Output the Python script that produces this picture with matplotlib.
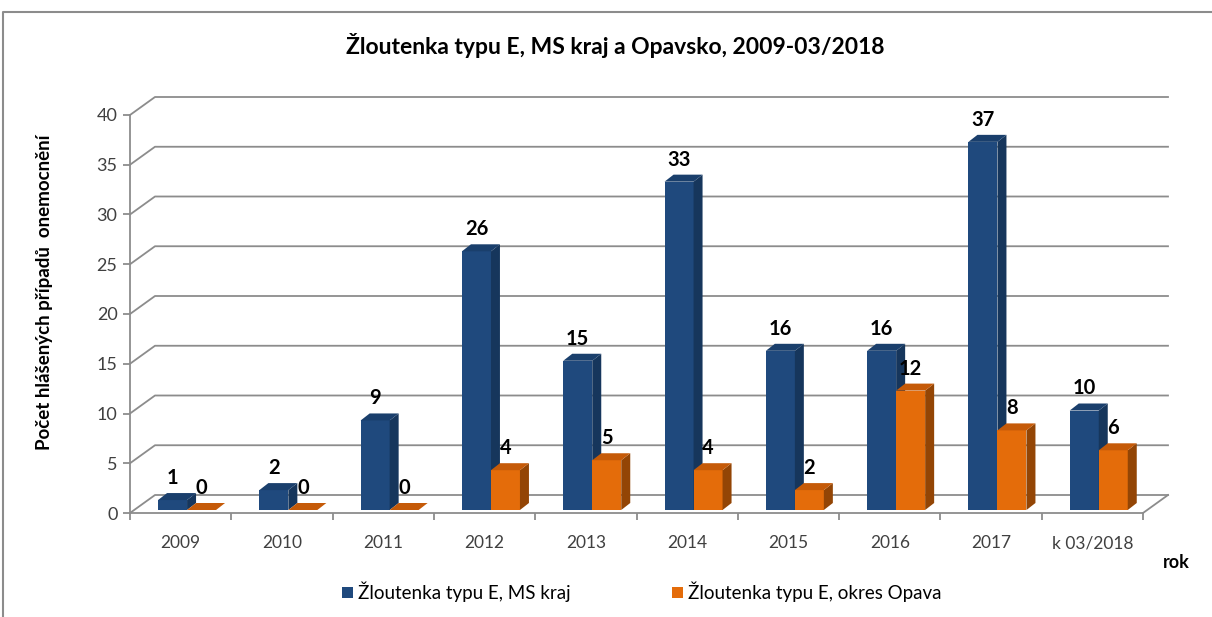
import numpy as np
import matplotlib
matplotlib.use("Agg")
import matplotlib.pyplot as plt
from matplotlib.patches import Polygon, Patch
from matplotlib.lines import Line2D

plt.rcParams["font.family"] = ["Lato", "DejaVu Sans"]

years = ["2009", "2010", "2011", "2012", "2013", "2014", "2015", "2016", "2017", "k 03/2018"]
ms_kraj = [1, 2, 9, 26, 15, 33, 16, 16, 37, 10]
opava = [0, 0, 0, 4, 5, 4, 2, 12, 8, 6]
series_names = ["Žloutenka typu E, MS kraj", "Žloutenka typu E, okres Opava"]

W, H = 1212, 617
fig = plt.figure(figsize=(W / 100, H / 100), dpi=100)
fig.patch.set_facecolor("white")

# front plane of the pseudo-3D chart
ax = fig.add_axes([130 / W, (H - 513) / H, 1013 / W, 398 / H])
n = len(years)
ax.set_xlim(-0.5, n - 0.5)
ax.set_ylim(0, 40)
ax.patch.set_alpha(0)

px_x = 1013 / n        # pixels per category
px_y = 398 / 40        # pixels per unit value
grey = "#8c8c8c"

# back wall / floor offset
wdx, wdy = 25 / px_x, 18 / px_y
for v in range(0, 41, 5):
    ax.add_line(Line2D([-0.5, -0.5 + wdx, n - 0.5 + wdx], [v, v + wdy, v + wdy],
                       color=grey, lw=1.3, clip_on=False, zorder=1))
ax.add_line(Line2D([n - 0.5, n - 0.5 + wdx], [0, wdy], color=grey, lw=1.3,
                   clip_on=False, zorder=1))

for s in ["top", "right"]:
    ax.spines[s].set_visible(False)
for s in ["left", "bottom"]:
    ax.spines[s].set_color(grey)
    ax.spines[s].set_linewidth(1.3)

ax.set_yticks(range(0, 41, 5))
ax.tick_params(axis="y", length=5, width=1.3, color=grey, labelsize=13,
               labelcolor="#404040", pad=4)
ax.set_xticks(np.arange(n))
ax.set_xticklabels(years)
ax.set_xticks(np.arange(n + 1) - 0.5, minor=True)
ax.tick_params(axis="x", which="major", length=0, labelsize=12.5,
               labelcolor="#404040", pad=16)
ax.tick_params(axis="x", which="minor", length=5, width=1.3, color=grey)

# bars (front face + top + side)
base = 3 / px_y
bw = 29 / px_x
bdx, bdy = 9 / px_x, 7 / px_y
blue = ("#1F497D", "#1A3F6C", "#16365C")
orange = ("#E46C0A", "#C55A08", "#934505")


def bar3d(x0, v, cols):
    front, top, side = cols
    y1 = base + v
    if v > 0:
        ax.add_patch(Polygon([(x0, base), (x0 + bw, base), (x0 + bw, y1), (x0, y1)],
                             closed=True, fc=front, ec="none", zorder=3))
        ax.add_patch(Polygon([(x0 + bw, base), (x0 + bw + bdx, base + bdy),
                              (x0 + bw + bdx, y1 + bdy), (x0 + bw, y1)],
                             closed=True, fc=side, ec="none", zorder=3))
    ax.add_patch(Polygon([(x0, y1), (x0 + bw, y1), (x0 + bw + bdx, y1 + bdy),
                          (x0 + bdx, y1 + bdy)],
                         closed=True, fc=top, ec="none", zorder=3))
    ax.annotate(str(v), (x0 + bw / 2, y1), xytext=(0, 22), textcoords="offset pixels",
                ha="center", va="center", fontsize=14.5, fontweight="bold",
                color="black", zorder=5, annotation_clip=False)


for i in range(n):
    bar3d(i - 22.6 / px_x, ms_kraj[i], blue)
    bar3d(i - 22.6 / px_x + bw, opava[i], orange)

# texts
fig.text(615 / W, 1 - 45 / H, "Žloutenka typu E, MS kraj a Opavsko, 2009-03/2018",
         ha="center", va="center", fontsize=16.5, fontweight="bold")
fig.text(45 / W, 1 - 292 / H, "Počet hlášených případů  onemocnění", rotation=90,
         ha="center", va="center", fontsize=13.5, fontweight="bold")
fig.text(1176 / W, 1 - 562 / H, "rok", ha="center", va="center",
         fontsize=13, fontweight="bold")

handles = [Patch(fc=blue[0], ec="none"), Patch(fc=orange[0], ec="none")]
fig.legend(handles, series_names, loc="center", bbox_to_anchor=(642 / W, 1 - 592 / H),
           ncol=2, frameon=False, fontsize=13.5, handlelength=0.55, handleheight=0.55,
           handletextpad=0.3, columnspacing=5.4)

# chart frame
fig.add_artist(Line2D([3 / W, 3 / W, 1.01], [-0.01, 1 - 12 / H, 1 - 12 / H],
                      color=grey, lw=1.5, transform=fig.transFigure))

fig.savefig("out.png", dpi=100)
